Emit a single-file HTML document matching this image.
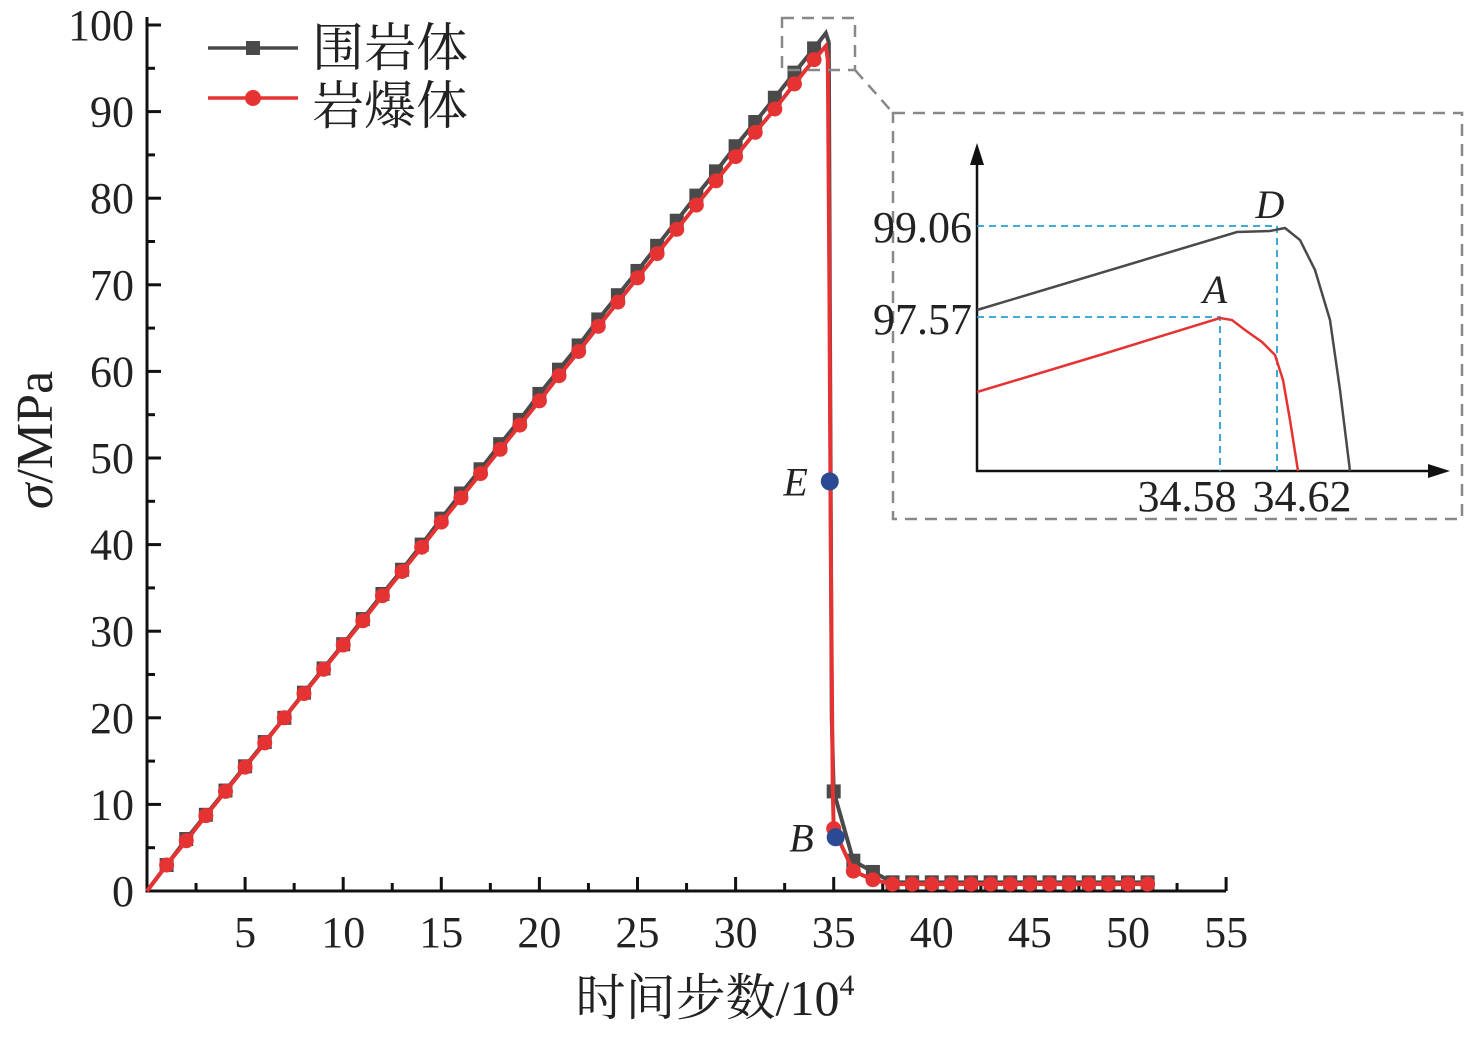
<!DOCTYPE html>
<html><head><meta charset="utf-8"><style>
body{margin:0;background:#fff}
svg text{font-family:"Liberation Serif","Noto Serif CJK SC",serif;fill:#222}
</style></head><body>
<svg id="c" width="1480" height="1035" xmlns="http://www.w3.org/2000/svg"></svg>
<script>
const xTicks=[5,10,15,20,25,30,35,40,45,50,55];
const yTicks=[0,10,20,30,40,50,60,70,80,90,100];
const blackRise=[0,3,6,8.8,11.6,14.4,17.2,20.0,22.9,25.7,28.5,31.4,34.3,37.1,40.0,43.0,45.9,48.7,51.6,54.4,57.4,60.2,63.0,66.0,68.8,71.6,74.5,77.4,80.3,83.1,86.0,88.8,91.6,94.5,97.3];
const redRise=[0,3,5.8,8.7,11.5,14.3,17.1,20,22.8,25.6,28.4,31.2,34.1,36.9,39.7,42.6,45.4,48.2,51,53.8,56.6,59.5,62.3,65.2,68,70.8,73.6,76.4,79.2,82,84.8,87.6,90.3,93.2,96.0];
const blackDropX=[34.6,34.75,34.82,34.9,35,36,37,38,39,40,41,42,43,44,45,46,47,48,49,50,51];
const blackDropY=[99.06,98,60,20,11.5,3.5,2.2,1.0,1.0,1.0,1.0,1.0,1.0,1.0,1.0,1.0,1.0,1.0,1.0,1.0,1.0];
const redDropX=[34.6,34.7,34.78,34.85,34.95,35,36,37,38,39,40,41,42,43,44,45,46,47,48,49,50,51];
const redDropY=[97.57,96,70,40,12,7.2,2.3,1.3,0.8,0.8,0.8,0.8,0.8,0.8,0.8,0.8,0.8,0.8,0.8,0.8,0.8,0.8];
const markX=[35,36,37,38,39,40,41,42,43,44,45,46,47,48,49,50,51];
const pointE=[34.8,47.3], pointB=[35.1,6.2];

const NS="http://www.w3.org/2000/svg", svg=document.getElementById('c');
const X=v=>147+19.62*v, Y=v=>891-8.66*v;
function mk(t,a,p){const e=document.createElementNS(NS,t);for(const k in a)e.setAttribute(k,a[k]);(p||svg).appendChild(e);return e;}
let ax=mk('path',{d:`M147 ${Y(100)-8}V891H1226`,stroke:'#111','stroke-width':3,fill:'none'});


for(let v=2.5;v<=55;v+=2.5){const big=v%5===0;mk('line',{x1:X(v),x2:X(v),y1:891,y2:891-(big?14:8),stroke:'#111','stroke-width':3});}
for(let v=0;v<=100;v+=5){const big=v%10===0;mk('line',{x1:147,x2:147+(big?14:8),y1:Y(v),y2:Y(v),stroke:'#111','stroke-width':3});}
xTicks.forEach(v=>{const t=mk('text',{x:X(v),y:947,'font-size':44,'text-anchor':'middle'});t.textContent=v;

});
yTicks.forEach(v=>{const t=mk('text',{x:134,y:Y(v)+15,'font-size':44,'text-anchor':'end'});t.textContent=v;

});
let xl=mk('text',{x:715,y:1015,'font-size':50,'text-anchor':'middle'});xl.innerHTML='时间步数/10<tspan dy="-20" font-size="30">4</tspan>';


let yl=mk('text',{x:0,y:0,'font-size':52,'text-anchor':'middle',transform:'translate(52,440) rotate(-90)'});yl.innerHTML='<tspan font-style="italic">σ</tspan>/MPa';


function series(rise,dx,dy,col,sq,name){
 let pts=rise.map((v,i)=>[X(i),Y(v)]).concat(dx.map((v,i)=>[X(v),Y(dy[i])]));
 const l=mk('polyline',{points:pts.map(p=>p.join(',')).join(' '),fill:'none',stroke:col,'stroke-width':4});
 
 
 const m=rise.slice(1).map((v,i)=>[i+1,v]).concat(markX.map(x=>[x,dy[dx.indexOf(x)]]));
 m.forEach(([x,y])=>{let e=sq?mk('rect',{x:X(x)-7,y:Y(y)-7,width:14,height:14,fill:col}):mk('circle',{cx:X(x),cy:Y(y),r:7.5,fill:col});
 
 });
}
series(blackRise,blackDropX,blackDropY,'#4a4a4a',true,'surrounding-rock');
series(redRise,redDropX,redDropY,'#e53333',false,'rockburst-body');
[[pointE,'E','point-e'],[pointB,'B','point-b']].forEach(([p,lab,n])=>{let c=mk('circle',{cx:X(p[0]),cy:Y(p[1]),r:9,fill:'#2a4a94'});


let t=mk('text',{x:X(p[0])-22,y:Y(p[1])+14,'font-size':40,'font-style':'italic','text-anchor':'end'});t.textContent=lab;});
let lg=mk('g',{});


mk('line',{x1:208,x2:298,y1:48,y2:48,stroke:'#4a4a4a','stroke-width':3.5},lg);mk('rect',{x:246,y:41,width:14,height:14,fill:'#4a4a4a'},lg);
mk('line',{x1:208,x2:298,y1:98,y2:98,stroke:'#e53333','stroke-width':3.5},lg);mk('circle',{cx:253,cy:98,r:8,fill:'#e53333'},lg);
let t1=mk('text',{x:312,y:66,'font-size':52},lg);t1.textContent='围岩体';
let t2=mk('text',{x:312,y:124,'font-size':52},lg);t2.textContent='岩爆体';
const dash={fill:'none',stroke:'#888','stroke-width':2.5,'stroke-dasharray':'12,8'};
let zb=mk('rect',Object.assign({x:782,y:18,width:73,height:52},dash));


mk('line',Object.assign({x1:855,y1:70,x2:893,y2:113},dash));
let ib=mk('rect',Object.assign({x:893,y:113,width:569,height:406},dash));


mk('path',{d:'M977 160V471H1435',stroke:'#111','stroke-width':2.5,fill:'none'});
mk('path',{d:'M970 165L977 143L984 165Z M1428 464L1450 471L1428 478Z',fill:'#111'});
mk('path',{d:'M977 226H1277V471 M977 317H1220V471',stroke:'#2a9fd0','stroke-width':1.8,'stroke-dasharray':'7,5',fill:'none'});
mk('path',{d:'M977 310L1237 232L1270 231L1285 228L1300 240L1315 270L1330 320L1340 390L1350 471',stroke:'#4a4a4a','stroke-width':2.5,fill:'none'});
mk('path',{d:'M977 392L1100 355L1220 318L1232 320L1245 330L1262 342L1275 355L1283 380L1290 420L1298 471',stroke:'#e53333','stroke-width':2.5,fill:'none'});
[['99.06',972,242,'end'],['97.57',972,334,'end'],['34.58',1187,511,'middle'],['34.62',1302,511,'middle']].forEach(([s,x,y,a])=>{let t=mk('text',{x,y,'font-size':44,'text-anchor':a});t.textContent=s;});
[['D',1270,218],['A',1215,303]].forEach(([s,x,y])=>{let t=mk('text',{x,y,'font-size':40,'font-style':'italic','text-anchor':'middle'});t.textContent=s;});
</script>
</body></html>
